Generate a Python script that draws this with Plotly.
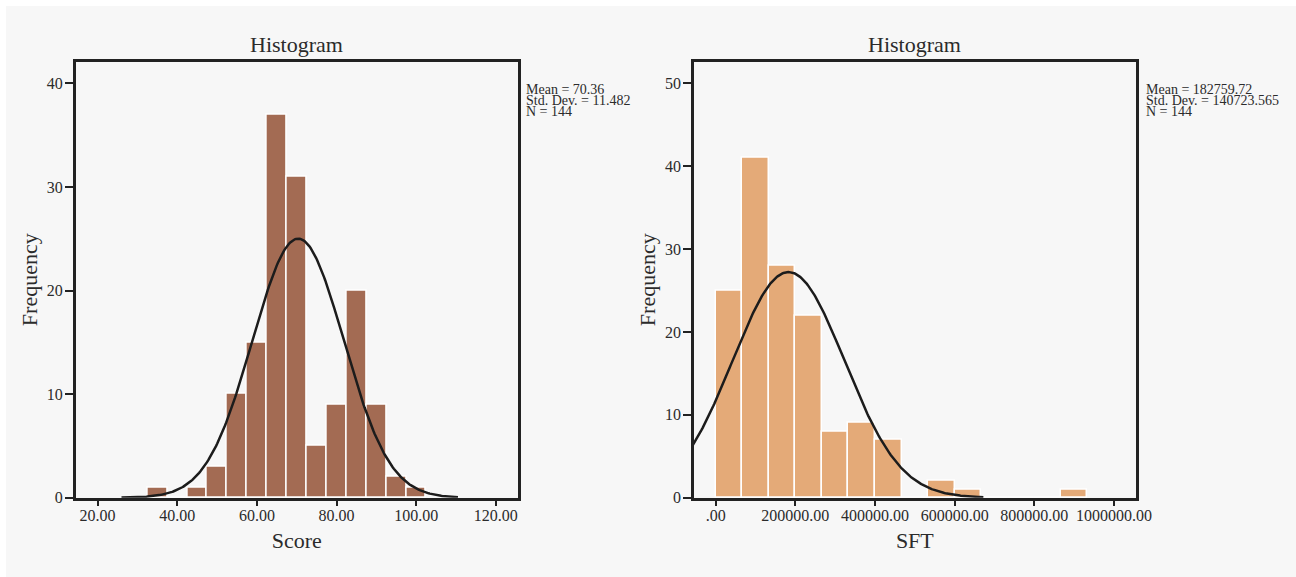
import numpy as np
import plotly.graph_objects as go

W, H = 1296, 577

# ---------------- data ----------------
score_bin_centers = [35, 40, 45, 50, 55, 60, 65, 70, 75, 80, 85, 90, 95, 100]
score_counts = [1, 0, 1, 3, 10, 15, 37, 31, 5, 9, 20, 9, 2, 1]
score_bin_width = 5
score_mean, score_sd, score_n = 70.36, 11.482, 144
score_curve_range = [26, 110.5]
score_xticks = [20, 40, 60, 80, 100, 120]
score_xticklabels = ["20.00", "40.00", "60.00", "80.00", "100.00", "120.00"]
score_yticks = [0, 10, 20, 30, 40]

sft_bin_width = 1000000 / 15
sft_bin_centers = [33333.33, 100000, 166666.67, 233333.33, 300000, 366666.67, 433333.33,
                   500000, 566666.67, 633333.33, 700000, 766666.67, 833333.33, 900000]
sft_counts = [25, 41, 28, 22, 8, 9, 7, 0, 2, 1, 0, 0, 0, 1]
sft_mean, sft_sd, sft_n = 182759.72, 140723.565, 144
sft_curve_range = [-60000, 672000]
sft_xticks = [0, 200000, 400000, 600000, 800000, 1000000]
sft_xticklabels = [".00", "200000.00", "400000.00", "600000.00", "800000.00", "1000000.00"]
sft_yticks = [0, 10, 20, 30, 40, 50]

score_stats = ["Mean = 70.36", "Std. Dev. = 11.482", "N = 144"]
sft_stats = ["Mean = 182759.72", "Std. Dev. = 140723.565", "N = 144"]


def normal_curve(mean, sd, n, bw, xr, npts=300):
    x = np.linspace(xr[0], xr[1], npts)
    y = n * bw / (sd * np.sqrt(2 * np.pi)) * np.exp(-0.5 * ((x - mean) / sd) ** 2)
    return x, y


FONT = "Liberation Serif"
TXT = "#2b2b2b"
BG = "#f7f7f7"
FRAME = "#222222"

fig = go.Figure()

fig.add_trace(go.Bar(x=score_bin_centers, y=score_counts, width=score_bin_width,
                     marker=dict(color="#a36b53", line=dict(color="white", width=1.5)),
                     xaxis="x", yaxis="y", showlegend=False, hoverinfo="skip"))
cx, cy = normal_curve(score_mean, score_sd, score_n, score_bin_width, score_curve_range)
fig.add_trace(go.Scatter(x=cx, y=cy, mode="lines", line=dict(color="#1c1c1c", width=2.5),
                         xaxis="x", yaxis="y", showlegend=False, hoverinfo="skip"))

fig.add_trace(go.Bar(x=sft_bin_centers, y=sft_counts, width=sft_bin_width,
                     marker=dict(color="#e4aa78", line=dict(color="white", width=1.5)),
                     xaxis="x2", yaxis="y2", showlegend=False, hoverinfo="skip"))
cx2, cy2 = normal_curve(sft_mean, sft_sd, sft_n, sft_bin_width, sft_curve_range)
fig.add_trace(go.Scatter(x=cx2, y=cy2, mode="lines", line=dict(color="#1c1c1c", width=2.5),
                         xaxis="x2", yaxis="y2", showlegend=False, hoverinfo="skip"))

# plot area geometry (page pixels)
L1, R1 = 75.7, 517.7
L2, R2 = 694.0, 1135.7
T, B = 61.7, 497.7

def px(v):
    return v / W

def py(v):
    return 1 - v / H

axis_common = dict(showline=True, linecolor=FRAME, linewidth=2.5, mirror=True,
                   ticks="outside", tickwidth=2, tickcolor=FRAME,
                   showgrid=False, zeroline=False, automargin=False,
                   tickfont=dict(family=FONT, size=16, color=TXT),
                   title_font=dict(family=FONT, size=22, color=TXT))
xaxis_common = dict(ticklen=6, ticklabelstandoff=-5, **axis_common)
yaxis_common = dict(ticklen=8, ticklabelstandoff=-1, **axis_common)

fig.update_layout(
    width=W, height=H,
    margin=dict(l=0, r=0, t=0, b=0, autoexpand=False),
    paper_bgcolor="white", plot_bgcolor=BG,
    bargap=0, barmode="overlay", showlegend=False,
    xaxis=dict(domain=[px(L1), px(R1)], range=[14.5, 125.5], anchor="y",
               tickvals=score_xticks, ticktext=score_xticklabels,
               title=dict(text="Score", standoff=10), **xaxis_common),
    yaxis=dict(domain=[py(B), py(T)], range=[0, 42.1], anchor="x",
               tickvals=score_yticks,
               title=dict(text="Frequency", standoff=4), **yaxis_common),
    xaxis2=dict(domain=[px(L2), px(R2)], range=[-54500, 1054500], anchor="y2",
                tickvals=sft_xticks, ticktext=sft_xticklabels,
                title=dict(text="SFT", standoff=10), **xaxis_common),
    yaxis2=dict(domain=[py(B), py(T)], range=[0, 52.6], anchor="x2",
                tickvals=sft_yticks,
                title=dict(text="Frequency", standoff=4), **yaxis_common),
    shapes=[dict(type="rect", xref="paper", yref="paper", layer="below",
                 x0=px(6), x1=1.01, y0=-0.01, y1=py(6),
                 fillcolor=BG, line=dict(width=0))],
)

annotations = []
for cxp, title in [((L1 + R1) / 2, "Histogram"), ((L2 + R2) / 2, "Histogram")]:
    annotations.append(dict(text=title, x=px(cxp), y=py(44), xref="paper", yref="paper",
                            xanchor="center", yanchor="middle", showarrow=False,
                            font=dict(family=FONT, size=22, color=TXT)))
for xl, lines in [(524.3, score_stats), (1143.5, sft_stats)]:
    for i, line in enumerate(lines):
        annotations.append(dict(text=line, x=px(xl), y=py(89.5 + 10.8 * i), xref="paper", yref="paper",
                                xanchor="left", yanchor="middle", showarrow=False,
                                font=dict(family=FONT, size=14, color=TXT)))
fig.update_layout(annotations=annotations)

fig.write_html("out.html", config={"displayModeBar": False},
               post_script="document.body.style.margin='0';document.body.style.overflow='hidden';")
